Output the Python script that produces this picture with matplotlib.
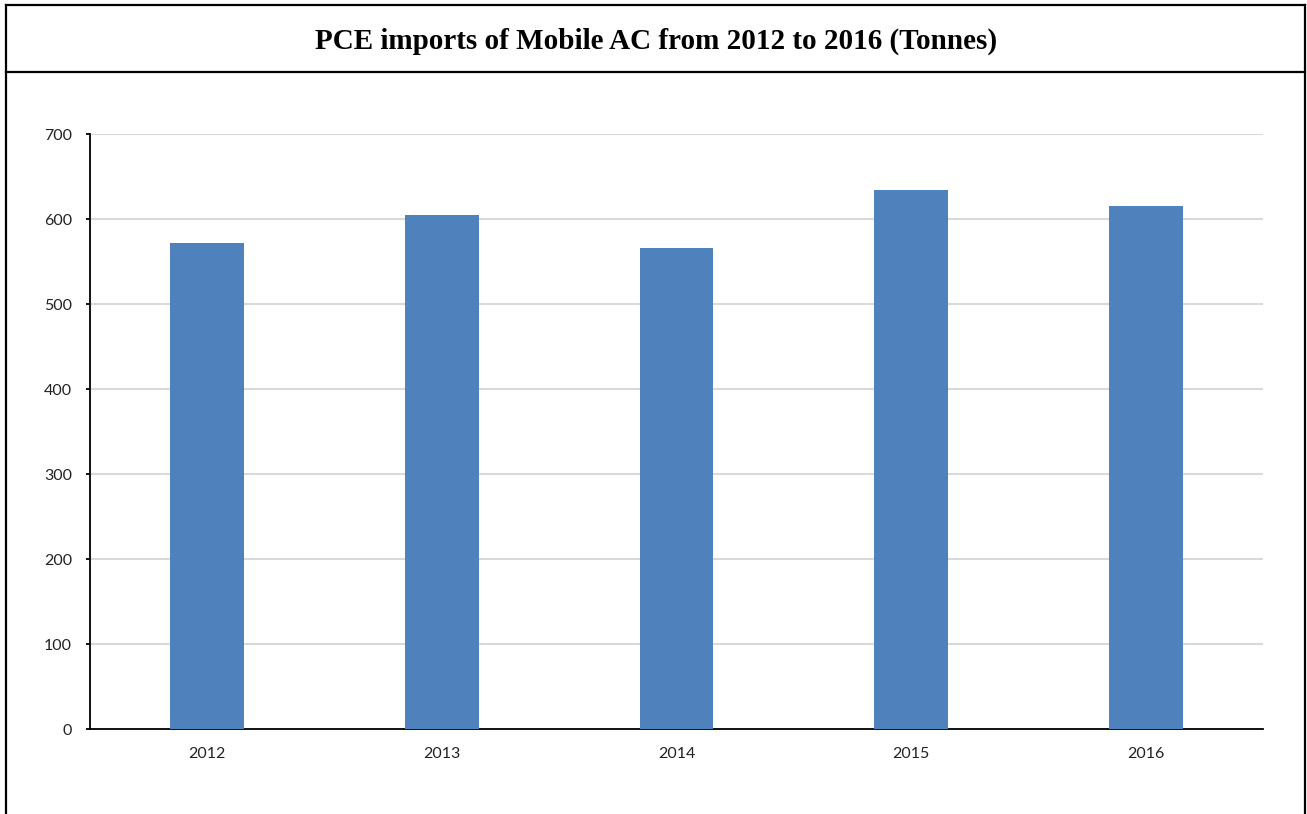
import matplotlib
matplotlib.use('Agg')
import matplotlib.pyplot as plt
from matplotlib.lines import Line2D

# data
years = ['2012', '2013', '2014', '2015', '2016']
imports_tonnes = [572, 605, 566, 635, 616]
y_ticks = [0, 100, 200, 300, 400, 500, 600, 700]

title = 'PCE imports of Mobile AC from 2012 to 2016 (Tonnes)'
bar_color = '#4F81BD'

fig = plt.figure(figsize=(13.07, 8.14), dpi=100)
W, H = 1307, 814

# outer box and title separator
box = dict(color='black', lw=1.6, transform=fig.transFigure)
fig.add_artist(Line2D([6 / W, 6 / W], [0, 1 - 5 / H], **box))
fig.add_artist(Line2D([1305 / W, 1305 / W], [0, 1 - 5 / H], **box))
fig.add_artist(Line2D([6 / W, 1305 / W], [1 - 5 / H, 1 - 5 / H], **box))
fig.add_artist(Line2D([6 / W, 1305 / W], [1 - 72 / H, 1 - 72 / H], **box))

fig.text(656 / W, 1 - 41 / H, title, ha='center', va='center',
         fontsize=21, fontweight='bold', family='Liberation Serif')

ax = fig.add_axes([90 / W, 1 - 729.3 / H, (1263 - 90) / W, (729.3 - 134.3) / H])
x = range(len(years))
ax.bar(x, imports_tonnes, width=0.315, color=bar_color, zorder=3)

ax.set_xlim(-0.5, len(years) - 0.5)
ax.set_ylim(0, 700)
ax.set_yticks(y_ticks)
ax.set_xticks(list(x))
ax.set_xticklabels(years)

ax.grid(axis='y', color='#d9d9d9', lw=1.5, zorder=0)
for s in ['top', 'right']:
    ax.spines[s].set_visible(False)
ax.spines['left'].set_linewidth(1.3)
ax.spines['bottom'].set_linewidth(1.3)

ax.tick_params(axis='y', length=3, width=1.3, pad=10, labelsize=11.5,
               labelcolor='#222222')
ax.tick_params(axis='x', length=0, pad=12.5, labelsize=11.5, labelcolor='#222222')
for lab in ax.get_xticklabels() + ax.get_yticklabels():
    lab.set_family('Lato')

fig.savefig('out.png', dpi=100)
